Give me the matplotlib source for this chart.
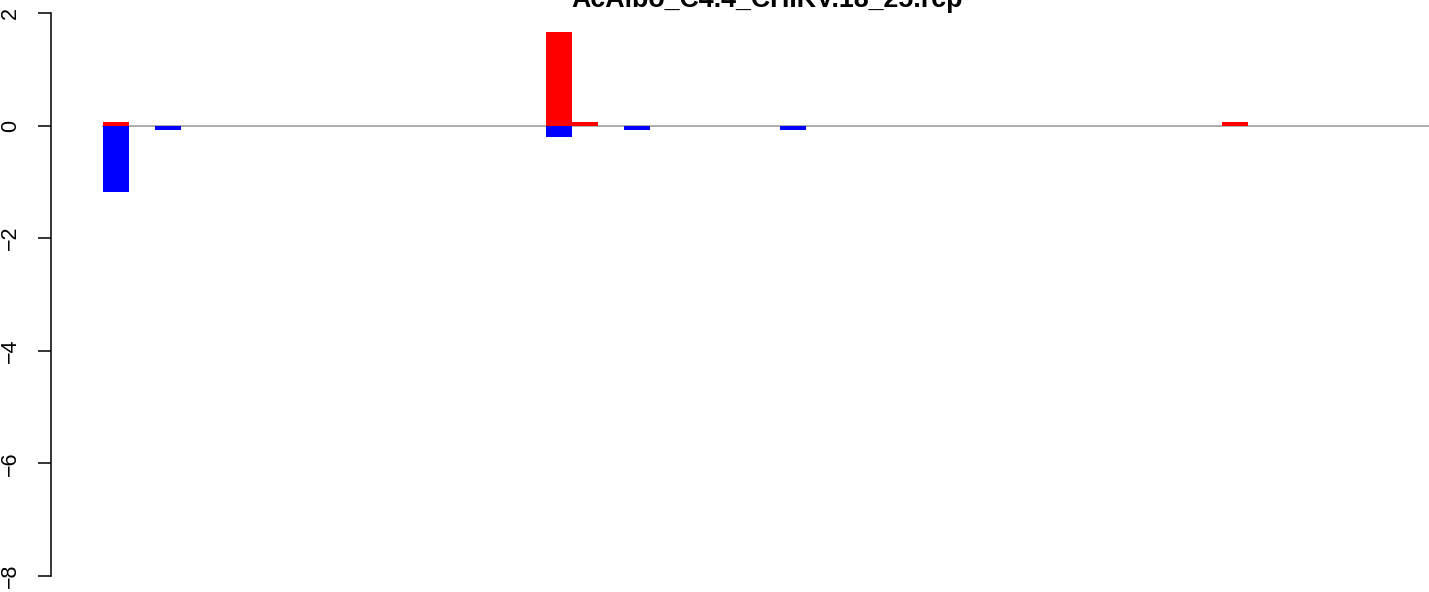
import numpy as np
import matplotlib
matplotlib.use("Agg")
import matplotlib.pyplot as plt

plt.rcParams['font.family'] = ['Liberation Sans', 'DejaVu Sans']

title = "AcAlbo_C4.4_CHIKV.18_25.rcp"
n_bars = 51

# non-zero bars (index, value)
red_idx = [0, 17, 18, 43]
red_vals = [0.07, 1.66, 0.06, 0.06]
blue_idx = [0, 2, 17, 20, 26]
blue_vals = [-1.18, -0.07, -0.20, -0.075, -0.07]

y_ticks = [2, 0, -2, -4, -6, -8]

red = np.zeros(n_bars)
red[red_idx] = red_vals
blue = np.zeros(n_bars)
blue[blue_idx] = blue_vals
pos = np.arange(n_bars)

W, H = 1429, 592
fig = plt.figure(figsize=(W / 100, H / 100), dpi=100)
ax_left = 50.5 / W
ax = fig.add_axes([ax_left, 0, 1 - ax_left, 1])

# pixel mapping: bar 0 left edge at 103 px, 26.03 px per bar
px_per_bar = 26.03
x0 = (50.5 - 103) / px_per_bar
x1 = (W - 103) / px_per_bar
ax.set_xlim(x0, x1)
# y=2 at 13 px, y=-8 at 576 px
ppu = (576 - 13) / 10
ax.set_ylim(-8 - (H - 576) / ppu, 2 + 13 / ppu)

ax.plot([0, n_bars], [0, 0], color='#a6a6a6', lw=1.3, zorder=1)
ax.bar(pos, red, width=1, align='edge', color='#ff0000', linewidth=0, zorder=2)
ax.bar(pos, blue, width=1, align='edge', color='#0000ff', linewidth=0, zorder=2)

for s in ['top', 'right', 'bottom']:
    ax.spines[s].set_visible(False)
ax.spines['left'].set_bounds(-8, 2)
ax.spines['left'].set_linewidth(1.1)
ax.set_xticks([])
ax.set_yticks(y_ticks)
ax.set_yticklabels([str(t).replace('-', '\u2212') for t in y_ticks],
                   rotation=90, va='center', fontsize=15.5)
ax.tick_params(axis='y', length=9.5, width=1.1, pad=12)
ax.patch.set_visible(False)

fig.text(767 / W, 1 - 7 / H, title, ha='center', va='baseline',
         fontsize=19.3, fontweight='bold')

fig.savefig("out.png", dpi=100)
